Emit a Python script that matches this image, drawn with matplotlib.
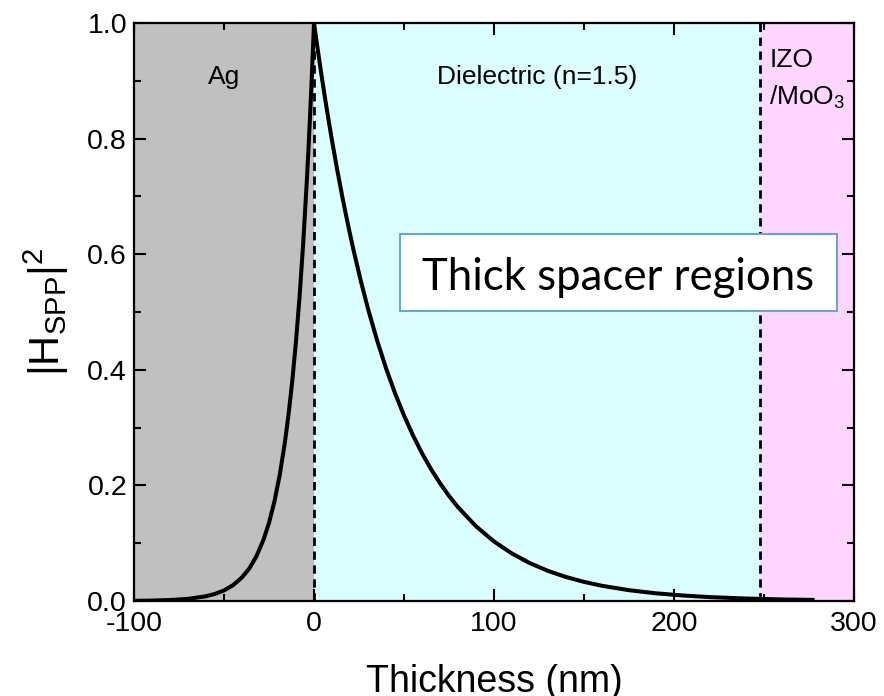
import numpy as np
import matplotlib
matplotlib.use("Agg")
import matplotlib.pyplot as plt
from matplotlib.patches import Rectangle
from matplotlib.ticker import MultipleLocator, FormatStrFormatter

plt.rcParams.update({
    "font.family": ["Liberation Sans", "DejaVu Sans"],
    "mathtext.fontset": "custom",
    "mathtext.rm": "Liberation Sans",
    "mathtext.it": "Liberation Sans",
    "axes.unicode_minus": False,
})

# |H_SPP|^2 profile across the Ag / dielectric interface
thickness = [-100, -90, -80, -70, -60, -55, -50, -45, -40, -36, -32, -28, -25,
             -22, -19, -16, -14, -12, -10, -8, -6, -4, -3, -2, -1, 0,
             1, 2, 4, 6, 8, 10, 13, 16, 19, 22, 26, 30, 35, 40, 45, 50, 55,
             60, 65, 70, 75, 80, 90, 100, 110, 120, 130, 140, 150, 160, 175,
             190, 205, 220, 240, 260, 277]
h_spp2 = [0.0003, 0.0007, 0.0017, 0.0037, 0.0082, 0.0123, 0.0183, 0.0273,
          0.0408, 0.0561, 0.0773, 0.1065, 0.1353, 0.1720, 0.2187, 0.2780,
          0.3263, 0.3829, 0.4493, 0.5273, 0.6188, 0.7261, 0.7866, 0.8521,
          0.9231, 1.0,
          0.9775, 0.9556, 0.9131, 0.8725, 0.8338, 0.7967, 0.7442, 0.6951,
          0.6493, 0.6065, 0.5538, 0.5057, 0.4514, 0.4029, 0.3596, 0.3210,
          0.2865, 0.2557, 0.2283, 0.2038, 0.1819, 0.1623, 0.1293, 0.1030,
          0.0821, 0.0654, 0.0521, 0.0415, 0.0331, 0.0263, 0.0187, 0.0133,
          0.0095, 0.0067, 0.0043, 0.0027, 0.0019]

# layer boundaries (nm)
ag_start, ag_end = -100, 0
diel_end = 248
top_end = 300

fig = plt.figure(figsize=(8.84, 6.96), dpi=100)
ax = fig.add_axes([0.1516, 0.1365, 0.8144, 0.8305])

ax.axvspan(ag_start, ag_end, color="#C0C0C0", lw=0, zorder=0)
ax.axvspan(ag_end, diel_end, color="#DBFFFF", lw=0, zorder=0)
ax.axvspan(diel_end, top_end, color="#FFD6FF", lw=0, zorder=0)

for xb in (ag_end, diel_end):
    ax.axvline(xb, color="black", ls=(0, (3, 2)), lw=2.0, zorder=2)

ax.plot(thickness, h_spp2, color="black", lw=2.9, zorder=3,
        solid_joinstyle="round")

ax.set_xlim(-100, 300)
ax.set_ylim(0, 1.0)
ax.xaxis.set_major_locator(MultipleLocator(100))
ax.xaxis.set_minor_locator(MultipleLocator(50))
ax.yaxis.set_major_locator(MultipleLocator(0.2))
ax.yaxis.set_minor_locator(MultipleLocator(0.1))
ax.yaxis.set_major_formatter(FormatStrFormatter("%.1f"))
ax.tick_params(which="both", direction="in", top=True, right=True,
               width=1.5, labelsize=20.5)
ax.tick_params(axis="x", pad=7)
ax.tick_params(axis="y", pad=5)
ax.tick_params(which="major", length=8.5)
ax.tick_params(which="minor", length=5)
for s in ax.spines.values():
    s.set_linewidth(1.6)

ax.set_xlabel("Thickness (nm)", fontsize=27, labelpad=20)
ax.set_ylabel(r"$\mathregular{|H_{SPP}|^2}$", fontsize=30, labelpad=12)

ax.text(-50, 0.907, "Ag", fontsize=19, ha="center", va="center")
ax.text(124, 0.907, "Dielectric (n=1.5)", fontsize=19, ha="center", va="center")
ax.text(253, 0.936, "IZO", fontsize=19, ha="left", va="center")
ax.text(253, 0.872, r"/MoO$_3$", fontsize=19, ha="left", va="center")

ax.add_patch(Rectangle((47.8, 0.502), 242.8, 0.133, facecolor="white",
                       edgecolor="#5B9BD5", lw=1.3, zorder=4))
ax.text(169.2, 0.538, "Thick spacer regions", fontsize=31.5,
        family=["Lato", "DejaVu Sans"], ha="center", va="baseline", zorder=5)

fig.savefig("out.png", dpi=100)
